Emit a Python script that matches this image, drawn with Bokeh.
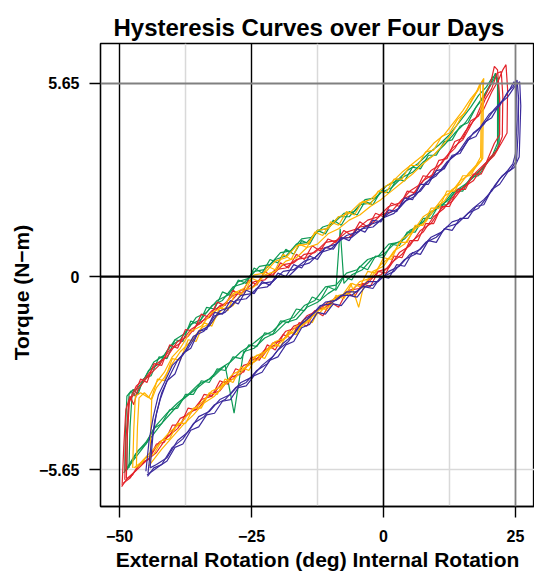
from bokeh.plotting import figure
from bokeh.models import FixedTicker, Span
from bokeh.embed import file_html
from bokeh.resources import INLINE

# ---------------- data (rotation deg, torque N-m) ----------------
x_ticks = [-50, -25, 0, 25]
x_tick_labels = {-50: "\u221250", -25: "\u221225", 0: "0", 25: "25"}
y_ticks = [-5.65, 0, 5.65]
y_tick_labels = {-5.65: "\u22125.65", 0: "0", 5.65: "5.65"}

red_a = [(-49.5,-6.1),(-49.2,-5.0),(-48.8,-3.9),(-48.0,-3.5),(-47.3,-3.75),(-46.5,-3.3),(-44.5,-2.9),(-42.5,-2.6),
         (-40.5,-2.15),(-38.5,-1.95),(-36.5,-1.55),(-34.5,-1.35),(-32.5,-1.0),(-30.5,-0.85),(-28.5,-0.55),(-26.5,-0.45),
         (-24.5,-0.15),(-22.5,-0.1),(-20.5,0.2),(-18.5,0.25),(-16.5,0.5),(-14.5,0.55),(-12.5,0.8),(-10.5,0.85),
         (-8.5,1.1),(-6.5,1.15),(-4.5,1.45),(-2.5,1.5),(-0.5,1.8),(1.5,1.9),(3.5,2.25),(5.5,2.4),(7.5,2.8),(9.5,3.0),
         (11.5,3.45),(13.5,3.75),(15.5,4.25),(17.5,4.65),(19.0,5.2),(20.2,5.6),(21.0,6.15),(21.6,6.05),(22.0,5.2),(22.0,4.15),
         (21.0,3.9),(19.5,3.35),(17.5,3.05),(15.5,2.65),(13.5,2.4),(11.5,2.0),(9.5,1.75),(7.5,1.3),(5.5,1.05),(3.5,0.65),
         (1.5,0.4),(-0.5,0.05),(-2.5,-0.05),(-4.5,-0.35),(-6.5,-0.4),(-8.5,-0.65),(-10.5,-0.75),(-12.5,-1.0),(-14.5,-1.15),
         (-16.5,-1.5),(-18.5,-1.6),(-20.5,-2.0),(-22.5,-2.15),(-24.5,-2.5),(-26.5,-2.6),(-28.5,-3.0),(-30.5,-3.1),
         (-32.5,-3.5),(-34.5,-3.6),(-36.5,-4.0),(-38.5,-4.15),(-40.5,-4.65),(-42.5,-4.85),(-44.5,-5.35),(-46.5,-5.55),
         (-48.0,-5.9),(-49.3,-6.05)]
red_b = [(-49.0,-5.95),(-48.8,-4.8),(-48.3,-3.75),(-47.6,-3.45),(-46.8,-3.2),(-45.0,-2.95),(-43.0,-2.55),(-41.0,-2.35),
         (-39.0,-1.9),(-37.0,-1.75),(-35.0,-1.35),(-33.0,-1.2),(-31.0,-0.85),(-29.0,-0.75),(-27.0,-0.4),(-25.0,-0.35),
         (-23.0,0.0),(-21.0,0.05),(-19.0,0.35),(-17.0,0.4),(-15.0,0.65),(-13.0,0.7),(-11.0,1.0),(-9.0,1.05),(-7.0,1.3),
         (-5.0,1.4),(-3.0,1.65),(-1.0,1.75),(1.0,2.05),(3.0,2.15),(5.0,2.5),(7.0,2.7),(9.0,3.1),(11.0,3.3),(13.0,3.75),
         (15.0,4.0),(17.0,4.55),(19.0,4.9),(20.5,5.4),(21.8,5.75),(22.6,6.05),(23.2,6.2),(23.5,5.5),(23.4,4.2),
         (22.5,3.95),(21.0,3.55),(19.0,3.25),(17.0,2.8),(15.0,2.6),(13.0,2.2),(11.0,2.0),(9.0,1.55),(7.0,1.35),(5.0,0.9),
         (3.0,0.7),(1.0,0.25),(-1.0,0.15),(-3.0,-0.2),(-5.0,-0.25),(-7.0,-0.55),(-9.0,-0.6),(-11.0,-0.9),(-13.0,-1.0),
         (-15.0,-1.35),(-17.0,-1.45),(-19.0,-1.85),(-21.0,-1.95),(-23.0,-2.35),(-25.0,-2.45),(-27.0,-2.85),(-29.0,-2.95),
         (-31.0,-3.35),(-33.0,-3.45),(-35.0,-3.85),(-37.0,-4.0),(-39.0,-4.45),(-41.0,-4.7),(-43.0,-5.15),(-45.0,-5.4),
         (-47.0,-5.7),(-48.5,-5.9),(-49.6,-6.15)]
red_c = [(-48.7,-5.9),(-48.5,-4.6),(-48.1,-3.6),(-47.2,-3.45),(-46.0,-3.0),(-44.8,-3.1),(-43.5,-2.55),(-42.0,-2.6),
         (-40.5,-2.0),(-39.0,-2.1),(-37.5,-1.55),(-36.0,-1.6),(-34.5,-1.1),(-33.0,-1.2),(-31.5,-0.75),(-30.0,-0.85),
         (-28.5,-0.4),(-27.0,-0.55),(-25.5,-0.1),(-24.0,-0.25),(-22.5,0.15),(-21.0,0.0),(-19.5,0.4),(-18.0,0.25),
         (-16.5,0.65),(-15.0,0.5),(-13.5,0.9),(-12.0,0.75),(-10.5,1.1),(-9.0,1.0),(-7.5,1.35),(-6.0,1.2),(-4.5,1.6),
         (-3.0,1.45),(-1.5,1.85),(0.0,1.75),(1.5,2.15),(3.0,2.05),(4.5,2.5),(6.0,2.45),(7.5,2.95),(9.0,2.9),(10.5,3.4),
         (12.0,3.45),(13.5,3.95),(15.0,4.05),(16.5,4.55),(18.0,4.7),(19.3,5.2),(20.5,5.5),(21.5,5.95),(22.3,6.0),
         (22.6,5.3),(22.5,4.1),
         (21.5,3.7),(20.0,3.45),(18.5,3.0),(17.0,3.0),(15.5,2.55),(14.0,2.55),(12.5,2.05),(11.0,2.05),(9.5,1.55),(8.0,1.55),
         (6.5,1.05),(5.0,1.05),(3.5,0.55),(2.0,0.6),(0.5,0.1),(-1.0,0.15),(-2.5,-0.3),(-4.0,-0.2),(-5.5,-0.6),(-7.0,-0.45),
         (-8.5,-0.9),(-10.0,-0.75),(-11.5,-1.15),(-13.0,-1.0),(-14.5,-1.45),(-16.0,-1.35),(-17.5,-1.8),(-19.0,-1.7),
         (-20.5,-2.15),(-22.0,-2.0),(-23.5,-2.45),(-25.0,-2.35),(-26.5,-2.8),(-28.0,-2.7),(-29.5,-3.15),(-31.0,-3.05),
         (-32.5,-3.5),(-34.0,-3.45),(-35.5,-3.9),(-37.0,-3.85),(-38.5,-4.35),(-40.0,-4.35),(-41.5,-4.85),(-43.0,-4.9),
         (-44.5,-5.35),(-46.0,-5.45),(-47.5,-5.8),(-48.8,-5.95)]

green_a = [(-49.0,-5.7),(-48.9,-4.6),(-48.6,-3.5),(-47.8,-3.35),(-47.0,-3.5),(-46.0,-3.2),(-44.5,-2.75),(-42.5,-2.55),
           (-40.5,-2.05),(-38.5,-1.85),(-36.5,-1.4),(-34.5,-1.25),(-32.5,-0.85),(-30.5,-0.7),(-28.5,-0.3),(-26.5,-0.2),
           (-24.5,0.15),(-22.5,0.2),(-20.5,0.5),(-18.5,0.6),(-16.5,0.95),(-14.5,1.0),(-12.5,1.35),(-10.5,1.4),(-8.5,1.75),
           (-6.5,1.75),(-4.5,2.1),(-2.5,2.15),(-0.5,2.45),(1.5,2.6),(3.5,2.9),(5.5,3.05),(7.5,3.35),(9.5,3.55),(11.5,3.85),
           (13.5,4.2),(15.5,4.5),(17.5,4.95),(19.0,5.3),(20.3,5.65),(21.2,5.95),(21.6,5.6),(21.6,3.9),
           (20.5,3.5),(19.0,3.2),(17.0,2.95),(15.0,2.6),(13.0,2.45),(11.0,2.05),(9.0,1.9),(7.0,1.5),(5.0,1.35),(3.0,1.0),
           (1.0,0.95),(-1.0,0.6),(-3.0,0.5),(-5.0,0.2),(-7.0,0.1),(-9.0,-0.25),(-11.0,-0.3),(-13.0,-0.7),(-15.0,-0.85),
           (-17.0,-1.2),(-19.0,-1.3),(-21.0,-1.6),(-23.0,-1.75),(-25.0,-2.0),(-27.0,-2.2),(-29.0,-2.5),(-31.0,-2.7),
           (-33.0,-3.0),(-35.0,-3.15),(-37.0,-3.45),(-39.0,-3.7),(-41.0,-4.0),(-43.0,-4.35),(-45.0,-4.85),(-47.0,-5.2),
           (-48.2,-5.5),(-49.2,-5.75)]
green_b = [(-48.2,-5.6),(-48.0,-4.4),(-47.6,-3.4),(-46.8,-3.3),(-45.5,-3.05),(-43.5,-2.5),(-41.5,-2.3),(-39.5,-1.85),
           (-37.5,-1.65),(-35.5,-1.2),(-33.5,-1.05),(-31.5,-0.7),(-29.5,-0.55),(-27.5,-0.15),(-25.5,-0.05),(-23.5,0.3),
           (-21.5,0.35),(-19.5,0.7),(-17.5,0.75),(-15.5,1.1),(-13.5,1.15),(-11.5,1.45),(-9.5,1.55),(-7.5,1.85),(-5.5,1.9),
           (-3.5,2.25),(-1.5,2.3),(0.5,2.65),(2.5,2.8),(4.5,3.1),(6.5,3.3),(8.5,3.6),(10.5,3.85),(12.5,4.15),(14.5,4.55),
           (16.5,4.95),(18.0,5.3),(19.5,5.55),(20.7,5.85),(21.7,5.8),(22.0,5.0),(21.9,3.85),
           (21.0,3.6),(19.5,3.35),(18.0,3.05),(16.0,2.75),(14.0,2.55),(12.0,2.2),(10.0,2.0),(8.0,1.65),(6.0,1.45),(4.0,1.1),
           (2.0,0.95),(0.0,0.65),(-2.0,0.55),(-4.0,0.2),(-6.0,0.05),(-7.5,-0.2),(-8.2,1.4),(-9.0,-0.35),(-10.5,-0.5),
           (-12.5,-0.75),(-14.5,-0.9),(-16.5,-1.25),(-18.5,-1.35),(-20.5,-1.65),(-22.5,-1.8),(-24.5,-2.1),(-26.5,-2.2),
           (-28.3,-4.0),(-30.0,-2.6),(-32.0,-2.9),(-34.0,-3.1),(-36.0,-3.35),(-38.0,-3.6),(-40.0,-3.95),(-42.0,-4.3),
           (-44.0,-4.7),(-46.0,-5.1),(-47.5,-5.4),(-48.6,-5.65)]
green_c = [(-48.6,-5.65),(-48.5,-4.5),(-48.2,-3.45),(-47.4,-3.3),(-46.5,-3.45),(-45.5,-3.0),(-44.0,-2.9),(-42.5,-2.35),
           (-41.0,-2.4),(-39.5,-1.85),(-38.0,-1.9),(-36.5,-1.3),(-35.0,-1.4),(-33.5,-0.9),(-32.0,-0.95),(-30.5,-0.45),
           (-29.0,-0.55),(-27.5,-0.1),(-26.0,-0.2),(-24.5,0.25),(-23.0,0.1),(-21.5,0.5),(-20.0,0.4),(-18.5,0.8),
           (-17.0,0.65),(-15.5,1.05),(-14.0,0.95),(-12.5,1.35),(-11.0,1.25),(-9.5,1.65),(-8.0,1.5),(-6.5,1.9),(-5.0,1.8),
           (-3.5,2.2),(-2.0,2.1),(-0.5,2.5),(1.0,2.45),(2.5,2.85),(4.0,2.8),(5.5,3.2),(7.0,3.15),(8.5,3.55),(10.0,3.55),
           (11.5,3.95),(13.0,4.0),(14.5,4.4),(16.0,4.5),(17.5,4.95),(19.0,5.25),(20.3,5.6),(21.4,5.9),(21.8,5.3),(21.7,3.8),
           (20.8,3.55),(19.5,3.3),(18.0,2.95),(16.5,2.9),(15.0,2.5),(13.5,2.5),(12.0,2.1),(10.5,2.1),(9.0,1.7),(7.5,1.7),
           (6.0,1.3),(4.5,1.3),(3.0,0.9),(1.5,0.95),(0.0,0.55),(-1.5,0.6),(-3.0,0.2),(-4.5,0.3),(-6.0,-0.1),(-7.5,0.0),
           (-9.0,-0.4),(-10.5,-0.3),(-12.0,-0.7),(-13.5,-0.6),(-15.0,-1.0),(-16.5,-0.95),(-18.0,-1.35),(-19.5,-1.3),
           (-21.0,-1.7),(-22.5,-1.65),(-24.0,-2.05),(-25.5,-2.0),(-27.0,-2.4),(-28.5,-2.35),(-30.0,-2.75),(-31.5,-2.7),
           (-33.0,-3.1),(-34.5,-3.05),(-36.0,-3.45),(-37.5,-3.45),(-39.0,-3.85),(-40.5,-3.9),(-42.0,-4.3),(-43.5,-4.45),
           (-45.0,-4.9),(-46.5,-5.1),(-47.8,-5.45),(-48.8,-5.7)]

orange_a = [(-47.5,-5.6),(-47.3,-4.5),(-47.0,-3.5),(-46.0,-3.4),(-44.5,-3.55),(-43.0,-3.1),(-41.5,-2.8),(-40.0,-2.35),
            (-38.5,-2.1),(-36.5,-1.6),(-34.5,-1.45),(-32.5,-1.05),(-30.5,-0.9),(-28.5,-0.5),(-26.5,-0.35),(-24.5,0.05),
            (-22.5,0.1),(-20.5,0.45),(-18.5,0.55),(-16.5,0.9),(-14.5,0.95),(-12.5,1.35),(-10.5,1.4),(-8.5,1.75),(-6.5,1.85),
            (-4.5,2.15),(-2.5,2.25),(-0.5,2.55),(1.5,2.75),(3.5,3.05),(5.5,3.3),(7.5,3.55),(9.5,3.9),(11.5,4.15),(13.5,4.55),
            (15.0,4.85),(16.5,5.2),(17.8,5.45),(19.0,5.8),(18.7,5.0),(18.6,3.4),
            (17.5,3.2),(16.0,2.95),(14.5,2.8),(13.0,2.5),(11.5,2.35),(9.5,1.95),(7.5,1.75),(5.5,1.3),(3.5,1.1),(1.5,0.6),
            (-0.5,0.35),(-2.5,-0.05),(-4.5,-0.15),(-6.5,-0.5),(-8.5,-0.55),(-10.5,-0.9),(-12.5,-1.0),(-14.5,-1.35),
            (-16.5,-1.45),(-18.5,-1.8),(-20.5,-1.9),(-22.5,-2.2),(-24.5,-2.35),(-26.5,-2.7),(-28.5,-2.85),(-30.5,-3.2),
            (-32.5,-3.35),(-34.5,-3.7),(-36.5,-3.95),(-38.5,-4.3),(-40.5,-4.55),(-42.5,-4.9),(-44.5,-5.2),(-46.0,-5.45),
            (-47.3,-5.6)]
orange_b = [(-44.2,-5.5),(-44.1,-4.6),(-43.9,-3.6),(-43.0,-3.25),(-41.5,-2.95),(-40.0,-2.55),(-38.5,-2.2),(-36.5,-1.9),
            (-34.5,-1.5),(-32.5,-1.35),(-30.5,-0.95),(-28.5,-0.85),(-26.5,-0.4),(-24.5,-0.3),(-22.5,0.05),(-20.5,0.15),
            (-18.5,0.45),(-16.5,0.55),(-14.5,0.85),(-12.5,0.95),(-10.5,1.25),(-8.5,1.4),(-6.5,1.65),(-4.5,1.8),(-2.5,2.05),
            (-0.5,2.25),(1.5,2.5),(3.5,2.75),(5.5,3.0),(7.5,3.3),(9.5,3.55),(11.5,3.9),(13.0,4.2),(14.5,4.6),(16.0,4.95),
            (17.3,5.3),(18.3,5.65),(18.5,4.8),(18.4,3.5),
            (17.5,3.25),(16.0,3.0),(14.5,2.7),(13.0,2.55),(11.5,2.2),(10.0,2.05),(8.0,1.6),(6.0,1.4),(4.0,0.95),(2.0,0.75),
            (0.0,0.3),(-2.0,0.15),(-3.8,-0.3),(-4.7,-0.9),(-6.2,-0.2),(-8.0,-0.6),(-10.0,-0.7),(-12.0,-1.05),(-14.0,-1.2),
            (-16.0,-1.55),(-18.0,-1.7),(-20.0,-2.0),(-22.0,-2.15),(-24.0,-2.45),(-26.0,-2.65),(-28.0,-2.95),(-30.0,-3.15),
            (-32.0,-3.5),(-34.0,-3.7),(-36.0,-4.05),(-38.0,-4.35),(-40.0,-4.7),(-42.0,-5.05),(-43.5,-5.35),(-44.5,-5.55)]
orange_c = [(-46.8,-5.55),(-46.6,-4.4),(-46.3,-3.55),(-45.3,-3.4),(-44.0,-3.6),(-42.8,-3.0),(-41.5,-3.05),(-40.0,-2.4),
            (-38.5,-2.45),(-37.0,-1.85),(-35.5,-1.9),(-34.0,-1.35),(-32.5,-1.45),(-31.0,-0.9),(-29.5,-1.0),(-28.0,-0.45),
            (-26.5,-0.55),(-25.0,-0.05),(-23.5,-0.15),(-22.0,0.3),(-20.5,0.2),(-19.0,0.65),(-17.5,0.5),(-16.0,0.95),
            (-14.5,0.85),(-13.0,1.3),(-11.5,1.2),(-10.0,1.6),(-8.5,1.5),(-7.0,1.9),(-5.5,1.8),(-4.0,2.2),(-2.5,2.1),
            (-1.0,2.5),(0.5,2.45),(2.0,2.85),(3.5,2.85),(5.0,3.25),(6.5,3.25),(8.0,3.65),(9.5,3.7),(11.0,4.1),(12.5,4.2),
            (14.0,4.6),(15.5,4.8),(16.8,5.2),(17.9,5.45),(18.8,5.75),(18.9,4.9),(18.8,3.45),
            (17.8,3.3),(16.5,2.95),(15.0,2.95),(13.5,2.5),(12.0,2.5),(10.5,2.0),(9.0,2.0),(7.5,1.5),(6.0,1.5),(4.5,1.0),
            (3.0,1.0),(1.5,0.5),(0.0,0.55),(-1.5,0.1),(-3.0,0.15),(-4.5,-0.3),(-6.0,-0.2),(-7.5,-0.65),(-9.0,-0.55),
            (-10.5,-1.0),(-12.0,-0.9),(-13.5,-1.35),(-15.0,-1.25),(-16.5,-1.7),(-18.0,-1.6),(-19.5,-2.05),(-21.0,-1.95),
            (-22.5,-2.4),(-24.0,-2.3),(-25.5,-2.75),(-27.0,-2.65),(-28.5,-3.1),(-30.0,-3.0),(-31.5,-3.45),(-33.0,-3.4),
            (-34.5,-3.85),(-36.0,-3.85),(-37.5,-4.3),(-39.0,-4.3),(-40.5,-4.75),(-42.0,-4.8),(-43.5,-5.2),(-45.0,-5.3),
            (-46.0,-5.5),(-47.0,-5.6)]

purple_a = [(-45.0,-5.7),(-44.4,-4.8),(-43.6,-4.1),(-42.6,-3.45),(-41.5,-3.1),(-40.0,-2.6),(-38.0,-2.3),(-36.0,-1.75),
            (-34.0,-1.6),(-32.0,-1.15),(-30.0,-1.05),(-28.0,-0.7),(-26.0,-0.65),(-24.0,-0.35),(-22.0,-0.3),(-20.0,0.0),
            (-18.0,0.0),(-16.0,0.3),(-14.0,0.4),(-12.0,0.7),(-10.0,0.8),(-8.0,1.1),(-6.0,1.15),(-4.0,1.4),(-2.0,1.45),
            (0.0,1.72),(2.0,1.85),(4.0,2.2),(6.0,2.35),(8.0,2.75),(10.0,2.95),(12.0,3.35),(14.0,3.6),(16.0,4.05),(18.0,4.3),
            (20.0,4.75),(22.0,5.0),(23.5,5.4),(24.5,5.55),(25.3,5.75),(25.6,5.2),(25.5,4.2),(25.2,3.4),
            (24.2,3.15),(22.5,2.95),(21.0,2.65),(19.5,2.3),(18.0,2.0),(16.0,1.85),(14.0,1.55),(12.0,1.45),(10.0,1.15),
            (8.0,1.0),(6.0,0.65),(4.0,0.5),(2.0,0.15),(0.0,0.0),(-2.0,-0.25),(-4.0,-0.3),(-6.0,-0.55),(-8.0,-0.55),
            (-10.0,-0.8),(-12.0,-0.85),(-14.0,-1.2),(-16.0,-1.45),(-18.0,-1.9),(-20.0,-2.15),(-22.0,-2.55),(-24.0,-2.75),
            (-26.0,-3.1),(-28.0,-3.25),(-30.0,-3.6),(-32.0,-3.75),(-34.0,-4.1),(-36.0,-4.3),(-38.0,-4.75),(-40.0,-5.0),
            (-42.0,-5.5),(-43.5,-5.6),(-44.7,-5.85)]
purple_b = [(-44.2,-5.6),(-43.7,-4.7),(-43.0,-4.0),(-42.0,-3.4),(-40.8,-3.0),(-39.0,-2.45),(-37.0,-2.1),(-35.0,-1.6),
            (-33.0,-1.45),(-31.0,-1.0),(-29.0,-0.9),(-27.0,-0.55),(-25.0,-0.5),(-23.0,-0.2),(-21.0,-0.15),(-19.0,0.15),
            (-17.0,0.2),(-15.0,0.45),(-13.0,0.55),(-11.0,0.85),(-9.0,0.95),(-7.0,1.2),(-5.0,1.3),(-3.0,1.5),(-1.0,1.6),
            (1.0,1.85),(3.0,2.0),(5.0,2.35),(7.0,2.5),(9.0,2.9),(11.0,3.1),(13.0,3.5),(15.0,3.75),(17.0,4.2),(19.0,4.45),
            (21.0,4.9),(22.8,5.2),(24.0,5.5),(24.7,5.7),(25.2,5.6),(25.3,4.6),(25.0,3.6),
            (24.5,3.3),(23.5,3.1),(22.0,2.85),(20.5,2.5),(19.0,2.25),(17.0,2.0),(15.0,1.7),(13.0,1.6),(11.0,1.3),(9.0,1.15),
            (7.0,0.8),(5.0,0.65),(3.0,0.3),(1.0,0.15),(-1.0,-0.15),(-3.0,-0.15),(-5.0,-0.45),(-7.0,-0.45),(-9.0,-0.7),
            (-11.0,-0.75),(-13.0,-1.05),(-15.0,-1.25),(-17.0,-1.7),(-19.0,-1.95),(-21.0,-2.35),(-23.0,-2.6),(-25.0,-2.95),
            (-27.0,-3.1),(-29.0,-3.45),(-31.0,-3.6),(-33.0,-3.95),(-35.0,-4.1),(-37.0,-4.55),(-39.0,-4.8),(-41.0,-5.3),
            (-43.0,-5.5),(-44.2,-5.6)]
purple_c = [(-44.6,-5.75),(-44.0,-4.9),(-43.3,-4.2),(-42.3,-3.6),(-41.0,-3.05),(-39.5,-2.85),(-38.0,-2.25),(-36.5,-2.1),
            (-35.0,-1.6),(-33.5,-1.55),(-32.0,-1.05),(-30.5,-1.1),(-29.0,-0.7),(-27.5,-0.8),(-26.0,-0.4),(-24.5,-0.5),
            (-23.0,-0.15),(-21.5,-0.25),(-20.0,0.1),(-18.5,0.0),(-17.0,0.35),(-15.5,0.25),(-14.0,0.6),(-12.5,0.5),
            (-11.0,0.85),(-9.5,0.8),(-8.0,1.15),(-6.5,1.05),(-5.0,1.4),(-3.5,1.3),(-2.0,1.65),(-0.5,1.6),(1.0,1.95),
            (2.5,1.9),(4.0,2.3),(5.5,2.25),(7.0,2.7),(8.5,2.7),(10.0,3.1),(11.5,3.15),(13.0,3.55),(14.5,3.6),(16.0,4.0),
            (17.5,4.1),(19.0,4.5),(20.5,4.65),(22.0,5.05),(23.5,5.25),(24.8,5.55),(25.8,5.7),(26.0,5.0),(25.7,3.5),
            (24.8,3.2),(23.5,3.05),(22.0,2.7),(20.5,2.55),(19.0,2.1),(17.5,2.05),(16.0,1.7),(14.5,1.7),(13.0,1.35),
            (11.5,1.4),(10.0,1.0),(8.5,1.05),(7.0,0.65),(5.5,0.7),(4.0,0.3),(2.5,0.35),(1.0,-0.05),(-0.5,0.0),(-2.0,-0.35),
            (-3.5,-0.3),(-5.0,-0.6),(-6.5,-0.55),(-8.0,-0.85),(-9.5,-0.8),(-11.0,-1.1),(-12.5,-1.05),(-14.0,-1.4),
            (-15.5,-1.5),(-17.0,-1.9),(-18.5,-2.0),(-20.0,-2.35),(-21.5,-2.45),(-23.0,-2.8),(-24.5,-2.9),(-26.0,-3.2),
            (-27.5,-3.25),(-29.0,-3.6),(-30.5,-3.65),(-32.0,-4.0),(-33.5,-4.05),(-35.0,-4.4),(-36.5,-4.5),(-38.0,-4.9),
            (-39.5,-5.0),(-41.0,-5.4),(-42.5,-5.55),(-43.8,-5.7),(-44.8,-5.8)]

series = [("#0E9A55", [green_a, green_b, green_c]),
          ("#E3242B", [red_a, red_b, red_c]),
          ("#FFB300", [orange_a, orange_b, orange_c]),
          ("#3B2B9C", [purple_a, purple_b, purple_c])]

FONT = "Liberation Sans"

p = figure(width=534, height=575, x_range=(-53.6, 28.6), y_range=(-6.73, 6.82),
           output_backend="svg", toolbar_location=None,
           min_border_left=100, min_border_right=0, min_border_top=43, min_border_bottom=69)
p.background_fill_color = "white"
p.border_fill_color = "white"
p.outline_line_color = "black"
p.outline_line_width = 1.3
p.xgrid.visible = False
p.ygrid.visible = False

# light minor gridlines
for loc in [-37.5, -12.5, 12.5]:
    p.add_layout(Span(location=loc, dimension="height", line_color="#d9d9d9", line_width=1.5, level="underlay"))
p.add_layout(Span(location=-5.65, dimension="width", line_color="#d9d9d9", line_width=1.5, level="underlay"))

for color, loops in series:
    for loop in loops:
        xs = [pt[0] for pt in loop]
        ys = [pt[1] for pt in loop]
        p.line(xs, ys, line_color=color, line_width=1.2)

for loc, col, w in [(-50, "black", 1.4), (-25, "black", 1.4), (0, "black", 1.6), (25, "#808080", 1.8)]:
    p.add_layout(Span(location=loc, dimension="height", line_color=col, line_width=w))
p.add_layout(Span(location=5.65, dimension="width", line_color="#808080", line_width=1.8))
p.add_layout(Span(location=0, dimension="width", line_color="black", line_width=2.2))

p.title.text = "Hysteresis Curves over Four Days"
p.title.text_font = FONT
p.title.text_font_style = "bold"
p.title.text_font_size = "24px"
p.title.text_color = "black"
p.title.align = "left"
p.title.offset = 13
p.title.standoff = 6

for ax in (p.xaxis[0], p.yaxis[0]):
    ax.axis_line_color = "black"
    ax.axis_line_width = 1.3
    ax.major_tick_line_color = "black"
    ax.major_tick_line_width = 1.4
    ax.major_tick_out = 11
    ax.major_tick_in = 0
    ax.minor_tick_out = 0
    ax.minor_tick_in = 0
    ax.major_label_text_font = FONT
    ax.major_label_text_font_style = "bold"
    ax.major_label_text_font_size = "16px"
    ax.major_label_text_color = "black"
    ax.axis_label_text_font = FONT
    ax.axis_label_text_font_style = "bold"
    ax.axis_label_text_font_size = "21px"
    ax.axis_label_text_color = "black"

p.xaxis.ticker = FixedTicker(ticks=x_ticks)
p.xaxis.major_label_overrides = x_tick_labels
p.xaxis.axis_label = "External Rotation (deg) Internal Rotation"
p.xaxis.major_label_standoff = 12
p.xaxis.axis_label_standoff = 3

p.yaxis.ticker = FixedTicker(ticks=y_ticks)
p.yaxis.major_label_overrides = y_tick_labels
p.yaxis.axis_label = "Torque (N\u2212m)\u00a0\u00a0\u00a0\u00a0\u00a0\u00a0"
p.yaxis.major_label_standoff = 10
p.yaxis.axis_label_standoff = 3

open("out.html", "w").write(file_html(p, INLINE))
